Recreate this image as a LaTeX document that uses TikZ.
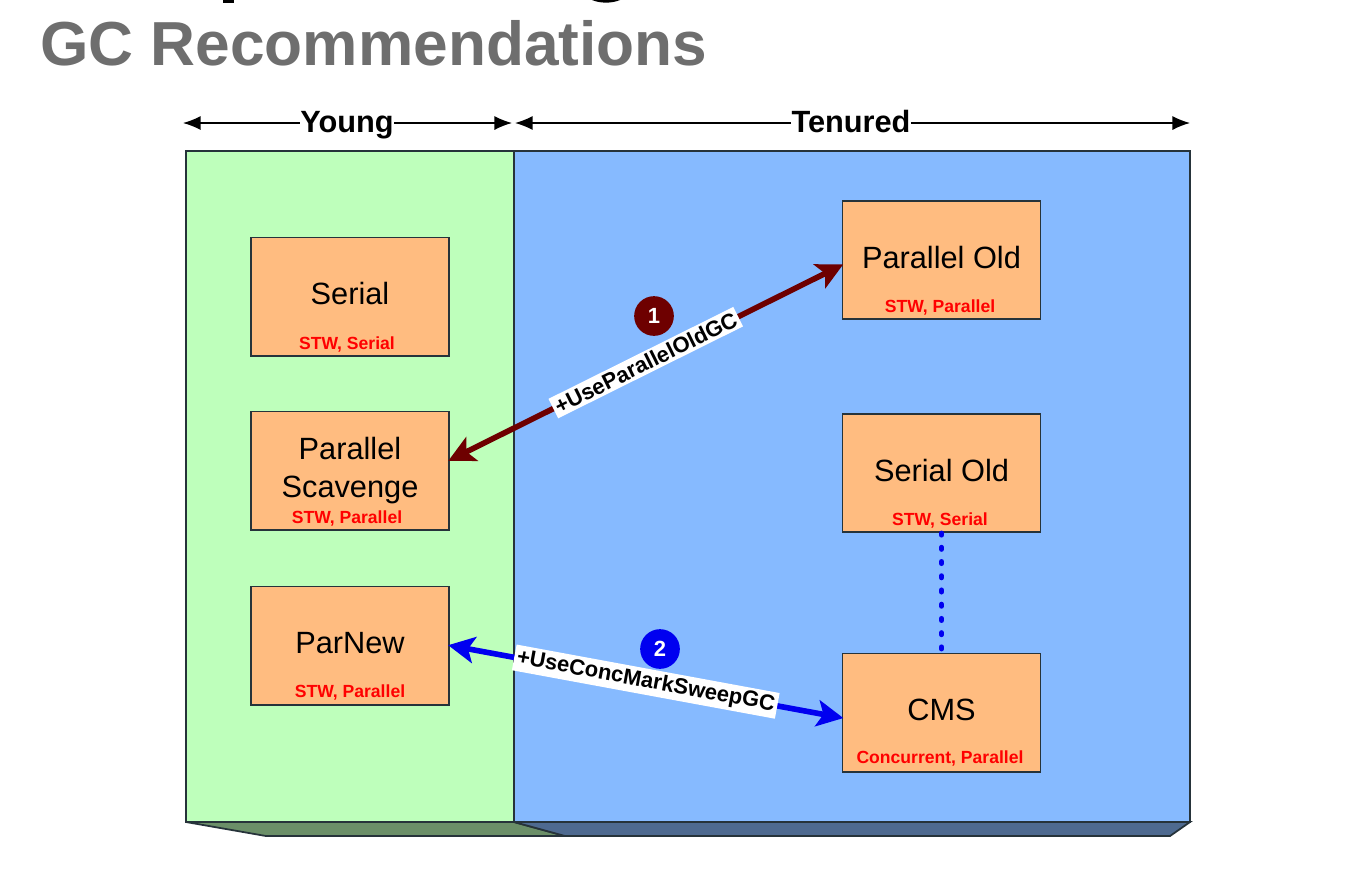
\documentclass[tikz,border=0pt]{standalone}
\usepackage{fontspec}
\setmainfont{Liberation Sans}
\usetikzlibrary{arrows.meta}
\definecolor{youngfill}{HTML}{BEFFBB}
\definecolor{youngside}{HTML}{6B8F68}
\definecolor{tenuredfill}{HTML}{86BAFF}
\definecolor{tenuredside}{HTML}{4E6A90}
\definecolor{boxfill}{HTML}{FFBC80}
\definecolor{edgedark}{HTML}{26333A}
\definecolor{oldred}{HTML}{6E0000}
\definecolor{newblue}{HTML}{0000F0}
\definecolor{titlegrey}{HTML}{6E6E6E}
\tikzset{
    every node/.style={align=center,},
    space/.style={draw=edgedark,line width=1pt,},
    collector/.style={draw=edgedark,line width=0.9pt,fill=boxfill,minimum width=112.8pt,minimum height=67.4pt,inner sep=0pt,font=\fontsize{17.5}{21.5}\selectfont,},
    oneline/.style={text height=12.5pt,text depth=3pt,},
    mode/.style={text=red,font=\bfseries\fontsize{10}{12}\selectfont,inner sep=0pt,},
    span/.style={font=\bfseries\fontsize{17.5}{20}\selectfont,inner sep=0pt,text height=12.5pt,text depth=2pt,},
    flag/.style={fill=white,sloped,inner sep=1.6pt,font=\bfseries\fontsize{12.5}{14}\selectfont,},
    badge/.style={circle,minimum size=22.6pt,inner sep=0pt,text=white,font=\bfseries\fontsize{12.5}{14}\selectfont,},
    link/.style={line width=3.2pt,shorten <=-1pt,shorten >=-1pt,{Stealth[length=15pt,width=15pt,inset=3.5pt]}-{Stealth[length=15pt,width=15pt,inset=3.5pt]},},
    dimline/.style={line width=0.8pt,-{Latex[length=10pt,width=8pt]},},
}

\begin{document}
\begin{tikzpicture}[x=0.02cm,y=-0.02cm]
                \useasboundingbox (0,0) rectangle (1358,870);

                % what is left of the cut off heading
                \fill[black] (223,0) rectangle (234,2.5);
                \fill[black] (592,0) .. controls (600,3.5) and (612,3.5) .. (620,0) -- cycle;

                \node[anchor=base west,inner sep=0pt,text=titlegrey,font=\bfseries\fontsize{35.4}{40}\selectfont] (title) at (40,65) {GC Recommendations};

                % regions
                \draw[space,fill=youngside] (186,822) -- (266,836) -- (565,836) -- (514,822) -- cycle;
                \draw[space,fill=tenuredside] (514,822) -- (565,836) -- (1170,836) -- (1190,822) -- cycle;
                \draw[space,fill=youngfill] (186,151) rectangle (514,822);
                \draw[space,fill=tenuredfill] (514,151) rectangle (1190,822);

                \node[span] (young) at (347,123) {Young};
                \node[span] (tenured) at (851,123) {Tenured};
                \coordinate (youngleft) at (183,123);
                \coordinate (youngright) at (512,123);
                \coordinate (tenuredleft) at (515,123);
                \coordinate (tenuredright) at (1190,123);
                \draw[dimline] (young) to (youngleft);
                \draw[dimline] (young) to (youngright);
                \draw[dimline] (tenured) to (tenuredleft);
                \draw[dimline] (tenured) to (tenuredright);

                % collectors
                \node[collector,oneline] (serial) at (350,296.5) {Serial};
                \node[collector] (scavenge) at (350,470.5) {Parallel\\Scavenge};
                \node[collector,oneline] (parnew) at (350,645.5) {ParNew};
                \node[collector,oneline] (parold) at (941.5,260) {Parallel Old};
                \node[collector,oneline] (serialold) at (941.5,473) {Serial Old};
                \node[collector,oneline] (cms) at (941.5,712.5) {CMS};

                \node[mode] (serialmode) at (347,344) {STW, Serial};
                \node[mode] (scavengemode) at (347,518) {STW, Parallel};
                \node[mode] (parnewmode) at (350,692) {STW, Parallel};
                \node[mode] (paroldmode) at (940,307) {STW, Parallel};
                \node[mode] (serialoldmode) at (940,520) {STW, Serial};
                \node[mode] (cmsmode) at (940,758) {Concurrent, Parallel};

                % links
                \draw[link,oldred] (scavenge.6.3) -- node[flag,text=black] (oldflag) {+UseParallelOldGC} (parold.183);
                \draw[link,newblue] (parnew.east) -- node[flag,text=black] (cmsflag) {+UseConcMarkSweepGC} (cms.183);
                \draw[newblue,line width=2.8pt,line cap=round,dash pattern=on 1.2pt off 6.9pt] (serialold) -- (cms);

                \node[badge,fill=oldred] (one) at (654,316) {1};
                \node[badge,fill=newblue] (two) at (660,649) {2};
            \end{tikzpicture}
\end{document}
